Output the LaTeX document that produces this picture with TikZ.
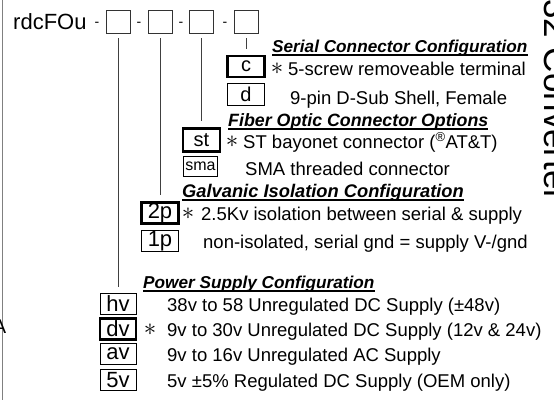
\documentclass[tikz,border=0pt]{standalone}
\usepackage{fontspec}
\setmainfont{Liberation Sans}
\usetikzlibrary{positioning}

\newcommand{\fsz}[1]{\fontsize{#1}{#1}\selectfont}

\begin{document}
\begin{tikzpicture}[
    x=1pt, y=-1pt,
    every node/.style={inner sep=0pt},
    slot/.style={
        draw=black!80,
        line width=0.8pt,
        minimum width=24pt,
        minimum height=23pt
    },
    optbox/.style={
        draw,
        line width=0.9pt,
        minimum width=37pt,
        minimum height=21pt,
        font=\fsz{20}
    },
    defbox/.style={optbox, line width=2.4pt},
    secttl/.style={anchor=base west, font=\fsz{17.2}\bfseries\itshape},
    desc/.style={anchor=base west, font=\fsz{18.5}},
    defmark/.style={font=\fsz{28}},
    hyph/.style={font=\fsz{14}},
    leader/.style={draw=black!75, line width=0.8pt, shorten <=5pt, shorten >=6pt},
    ulrule/.style={line width=1.3pt}
]
\useasboundingbox (0,0) rectangle (554,400);
\clip (0,0) rectangle (554,400);

% part number
\node (model) [anchor=west, font=\fsz{22}] at (13,22) {rdcFOu};
\node (h1) [hyph] at (97,24)  {-};
\node (slot1) [slot] at (118,21.5) {};
\node (h2) [hyph] at (139,24) {-};
\node (slot2) [slot] at (160,21.5) {};
\node (h3) [hyph] at (181,24) {-};
\node (slot3) [slot] at (201.5,21.5) {};
\node (h4) [hyph] at (225,24) {-};
\node (slot4) [slot] at (246,21.5) {};

% serial connector
\node (sertl) [secttl] at (272,52) {Serial Connector Configuration};
\node (c)     [defbox] at (246,66.5) {c};
\node (cmark) [defmark] at (277,69) {$\ast$};
\node (cdesc) [desc] at (288,75) {5-screw removeable terminal};
\node (d)     [optbox, minimum height=22pt] at (246,94.5) {d};
\node (ddesc) [desc] at (290,104) {9-pin D-Sub Shell, Female};

% fiber connector
\node (fibtl)  [secttl, font=\fsz{17.8}\bfseries\itshape] at (228,126) {Fiber Optic Connector Options};
\node (st)     [defbox, minimum height=23pt] at (201.5,140) {st};
\node (stmark) [defmark] at (232,142) {$\ast$};
\node (stdesc) [desc] at (243,148) {ST bayonet connector (\textsuperscript{\textregistered}AT\&T)};
\node (sma)    [optbox, minimum width=34pt, minimum height=20pt, font=\fsz{16}] at (200.5,166) {sma};
\node (smadesc) [desc] at (245,175) {SMA threaded connector};

% galvanic isolation
\node (galtl)  [secttl, font=\fsz{18.3}\bfseries\itshape] at (182,197) {Galvanic Isolation Configuration};
\node (2p)     [defbox, font=\fsz{22}] at (160,213) {2p};
\node (2pmark) [defmark] at (188,214) {$\ast$};
\node (2pdesc) [desc] at (201,220) {2.5Kv isolation between serial \& supply};
\node (1p)     [optbox, font=\fsz{22}] at (160,241) {1p};
\node (1pdesc) [desc] at (203,248) {non-isolated, serial gnd = supply V-/gnd};

% power supply
\node (pwrtl)  [secttl] at (143,288) {Power Supply Configuration};
\node (hv)     [optbox, minimum width=36pt, font=\fsz{22}] at (118,304) {hv};
\node (hvdesc) [desc] at (167,311) {38v to 58 Unregulated DC Supply (\textpm48v)};
\node (dv)     [defbox, minimum width=36pt, font=\fsz{22}] at (118,329) {dv};
\node (dvmark) [defmark] at (150,330) {$\ast$};
\node (dvdesc) [desc] at (167,336) {9v to 30v Unregulated DC Supply (12v \& 24v)};
\node (av)     [optbox, minimum width=36pt, font=\fsz{22}] at (118,354) {av};
\node (avdesc) [desc] at (167,361) {9v to 16v Unregulated AC Supply};
\node (5v)     [optbox, minimum width=36pt, font=\fsz{22}] at (118,380) {5v};
\node (5vdesc) [desc] at (167,387) {5v \textpm5\% Regulated DC Supply (OEM only)};

% leaders
\draw [leader] (slot1.south) -- (hv.north);
\draw [leader] (slot2.south) -- (2p.north);
\draw [leader] (slot3.south) -- (st.north);
\draw [leader] (slot4.south) -- (c.north);

% underlines
\foreach \t in {sertl, fibtl, galtl, pwrtl}
    \draw [ulrule] ([yshift=-3pt]\t.base west) -- ([yshift=-3pt]\t.base east);

% page edges
\draw [black!50, line width=1.5pt] (2.5,0) -- (2.5,400);
\node (cutA) [anchor=east, font=\fsz{20}] at (6.5,327) {A};
\node (banner) [rotate=-90, anchor=base west, font=\fsz{35}] at (544,-1) {32 Converter};

\end{tikzpicture}
\end{document}
